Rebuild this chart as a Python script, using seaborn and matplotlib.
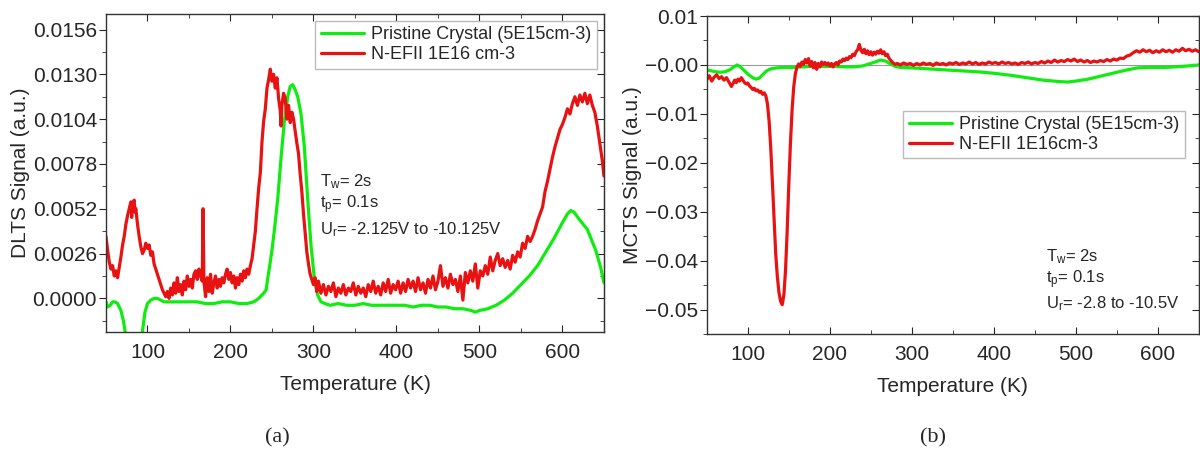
import numpy as np
import pandas as pd
import seaborn as sns
import matplotlib.pyplot as plt
from matplotlib.ticker import MultipleLocator

# ---- data ----
labels_a = ["Pristine Crystal (5E15cm-3)", "N-EFII 1E16 cm-3"]
labels_b = ["Pristine Crystal (5E15cm-3)", "N-EFII 1E16cm-3"]

# (a) DLTS, pristine crystal
dlts_pristine_T = [50, 52, 55, 58, 61, 64, 68, 71, 74, 77, 80, 84, 88, 91, 94, 97, 100, 104, 108, 112,
                   116, 120, 130, 140, 150, 160, 170, 180, 190, 200, 210, 220, 228, 234, 240, 243, 245,
                   247, 250, 253, 257, 261, 265, 269, 272, 275, 278, 281, 285, 289, 293, 297, 301, 305,
                   309, 314, 320, 330, 340, 350, 360, 370, 380, 390, 400, 410, 420, 430, 440, 450, 460,
                   470, 480, 490, 495, 500, 510, 520, 530, 540, 550, 560, 570, 580, 590, 600, 606, 610,
                   614, 620, 630, 640, 646, 650]
dlts_pristine = [-0.0002, -0.0005, -0.0004, -0.0002, -0.0002, -0.0003, -0.0007, -0.0013, -0.0022, -0.0032,
                 -0.0040, -0.0044, -0.0040, -0.0030, -0.0019, -0.0008, -0.0003, -0.0001, 0.0000, 0.0000,
                 -0.0001, -0.0002, -0.0002, -0.0002, -0.0002, -0.0002, -0.0003, -0.0003, -0.0002, -0.0002,
                 -0.0003, -0.0003, -0.0002, 0.0000, 0.0003, 0.0005, 0.0012, 0.0018, 0.0028, 0.0040,
                 0.0058, 0.0082, 0.0103, 0.0117, 0.0123, 0.0124, 0.0121, 0.0117, 0.0107, 0.0088,
                 0.0058, 0.0031, 0.0012, 0.0002, -0.0002, -0.0003, -0.0004, -0.0003, -0.0004, -0.0004,
                 -0.0003, -0.0004, -0.0004, -0.0004, -0.0004, -0.0004, -0.0005, -0.0004, -0.0004, -0.0005,
                 -0.0005, -0.0006, -0.0006, -0.0007, -0.0008, -0.0007, -0.0006, -0.0004, -0.0001, 0.0003,
                 0.0008, 0.0013, 0.0019, 0.0027, 0.0035, 0.0044, 0.0049, 0.0051, 0.0050, 0.0046,
                 0.0040, 0.0028, 0.0018, 0.0009]

# (a) DLTS, N-EFII
dlts_nefii_T = [50, 52, 54, 56, 58, 60, 62, 64, 66, 68, 70, 72, 74, 76, 78, 80, 81, 82, 84, 85, 86, 88,
                90, 92, 94, 96, 98, 100, 102, 104, 106, 108, 110, 112, 114, 116, 118, 120, 122, 124, 126,
                128, 130, 132, 134, 136, 138, 140, 142, 144, 146, 148, 150, 152, 154, 156, 158, 160, 162,
                164, 166, 167, 168, 170, 172, 174, 176, 178, 180, 182, 184, 186, 188, 190, 192, 194, 196,
                198, 200, 202, 204, 206, 208, 210, 212, 214, 216, 218, 220, 222, 224, 226, 228, 230, 232,
                234, 236, 238, 240, 242, 244, 246, 248, 250, 252, 254, 256, 258, 260, 261, 262, 264, 266,
                268, 270, 272, 274, 276, 278, 280, 282, 284, 286, 288, 290, 292, 294, 296, 298, 300, 302,
                304, 306, 309, 312, 315, 318, 321, 324, 327, 330, 333, 336, 339, 342, 345, 348, 351, 354,
                357, 360, 363, 366, 369, 372, 375, 378, 381, 384, 387, 390, 393, 396, 399, 402, 405, 408,
                411, 414, 417, 420, 423, 426, 429, 432, 435, 438, 441, 444, 447, 450, 453, 456, 459, 462,
                465, 468, 471, 474, 477, 480, 483, 486, 489, 492, 495, 498, 501, 504, 507, 510, 513, 516,
                519, 522, 525, 528, 531, 534, 537, 540, 543, 546, 549, 552, 555, 558, 561, 564, 567, 570,
                573, 576, 579, 582, 585, 588, 591, 594, 597, 600, 603, 606, 609, 612, 615, 618, 621, 624,
                627, 630, 633, 636, 639, 642, 645, 648, 650]
dlts_nefii = [0.0036, 0.0028, 0.0021, 0.0017, 0.0019, 0.0013, 0.0016, 0.0012, 0.0018, 0.0024, 0.0031,
              0.0036, 0.0043, 0.0048, 0.0052, 0.0056, 0.0047, 0.0055, 0.0057, 0.0050, 0.0052, 0.0043,
              0.0036, 0.0030, 0.0026, 0.0028, 0.0032, 0.0029, 0.0031, 0.0025, 0.0027, 0.0020, 0.0017,
              0.0014, 0.0011, 0.0008, 0.0005, 0.0003, 0.0001, 0.0004, 0.0000, 0.0006, 0.0002, 0.0009,
              0.0003, 0.0012, 0.0004, 0.0008, 0.0002, 0.0010, 0.0005, 0.0013, 0.0007, 0.0011, 0.0006,
              0.0014, 0.0016, 0.0011, 0.0017, 0.0013, 0.0010, 0.0052, 0.0010, 0.0001, 0.0012, 0.0004,
              0.0014, 0.0003, 0.0009, 0.0013, 0.0006, 0.0011, 0.0007, 0.0012, 0.0009, 0.0014, 0.0017,
              0.0011, 0.0015, 0.0009, 0.0013, 0.0006, 0.0012, 0.0008, 0.0014, 0.0010, 0.0016, 0.0012,
              0.0017, 0.0014, 0.0019, 0.0023, 0.0031, 0.0039, 0.0052, 0.0064, 0.0073, 0.0091, 0.0103,
              0.0110, 0.0122, 0.0127, 0.0133, 0.0126, 0.0130, 0.0122, 0.0128, 0.0116, 0.0109, 0.0100,
              0.0112, 0.0119, 0.0116, 0.0104, 0.0112, 0.0102, 0.0108, 0.0104, 0.0097, 0.0090, 0.0084,
              0.0072, 0.0062, 0.0049, 0.0038, 0.0027, 0.0020, 0.0014, 0.0011, 0.0008, 0.0012, 0.0004,
              0.0010, 0.0003, 0.0008, 0.0002, 0.0007, 0.0004, 0.0009, 0.0001, 0.0006, 0.0003, 0.0008,
              0.0002, 0.0006, 0.0004, 0.0009, 0.0002, 0.0007, 0.0003, 0.0006, 0.0001, 0.0008, 0.0004,
              0.0010, 0.0003, 0.0007, 0.0002, 0.0009, 0.0004, 0.0011, 0.0003, 0.0008, 0.0005, 0.0010,
              0.0003, 0.0009, 0.0004, 0.0011, 0.0006, 0.0010, 0.0004, 0.0012, 0.0005, 0.0009, 0.0003,
              0.0011, 0.0006, 0.0013, 0.0005, 0.0010, 0.0019, 0.0007, 0.0012, 0.0006, 0.0014, 0.0008,
              0.0011, 0.0004, 0.0013, -0.0001, 0.0015, 0.0009, 0.0016, 0.0010, 0.0020, 0.0006, 0.0016,
              0.0013, 0.0019, 0.0014, 0.0024, 0.0016, 0.0022, 0.0026, 0.0019, 0.0023, 0.0018, 0.0022,
              0.0017, 0.0025, 0.0021, 0.0027, 0.0024, 0.0032, 0.0029, 0.0036, 0.0033, 0.0036, 0.0040,
              0.0045, 0.0049, 0.0053, 0.0062, 0.0068, 0.0075, 0.0082, 0.0088, 0.0093, 0.0098, 0.0101,
              0.0105, 0.0110, 0.0107, 0.0113, 0.0117, 0.0112, 0.0118, 0.0114, 0.0119, 0.0113, 0.0118,
              0.0112, 0.0108, 0.0100, 0.0090, 0.0080, 0.0071]

# (b) MCTS, pristine crystal
mcts_pristine_T = [50, 58, 66, 72, 78, 83, 87, 91, 96, 101, 106, 110, 114, 118, 123, 128, 135, 145, 155,
                   165, 175, 190, 205, 220, 230, 240, 248, 255, 262, 268, 274, 280, 286, 300, 320, 340,
                   360, 380, 400, 420, 440, 460, 480, 490, 500, 515, 530, 545, 560, 575, 590, 610, 630, 650]
mcts_pristine = [-0.0010, -0.0013, -0.0015, -0.0014, -0.0010, -0.0004, 0.0000, -0.0004, -0.0012, -0.0020,
                 -0.0026, -0.0029, -0.0027, -0.0020, -0.0012, -0.0008, -0.0006, -0.0005, -0.0005, -0.0004,
                 -0.0003, -0.0003, -0.0003, -0.0004, -0.0004, -0.0002, 0.0002, 0.0006, 0.0010, 0.0008,
                 0.0002, -0.0003, -0.0005, -0.0006, -0.0008, -0.0010, -0.0012, -0.0014, -0.0017, -0.0021,
                 -0.0026, -0.0031, -0.0034, -0.0035, -0.0033, -0.0029, -0.0023, -0.0017, -0.0011, -0.0006,
                 -0.0005, -0.0005, -0.0003, 0.0000]

# (b) MCTS, N-EFII
mcts_nefii_T = [50, 53, 56, 59, 62, 65, 68, 71, 74, 77, 80, 82, 84, 86, 88, 90, 92, 94, 96, 98, 100, 102,
                104, 106, 108, 110, 112, 114, 116, 118, 120, 122, 124, 126, 128, 130, 132, 134, 136, 138,
                140, 142, 144, 146, 148, 150, 152, 154, 156, 158, 160, 162, 164, 166, 168, 170, 172, 174,
                176, 178, 180, 182, 184, 186, 188, 190, 192, 194, 196, 198, 200, 202, 204, 206, 208, 210,
                212, 214, 216, 218, 220, 222, 224, 226, 228, 230, 232, 234, 236, 238, 240, 242, 244, 246,
                248, 250, 252, 254, 256, 258, 260, 262, 264, 266, 268, 270, 272, 274, 276, 278, 280, 282,
                286, 290, 294, 298, 302, 306, 310, 314, 318, 322, 326, 330, 334, 338, 342, 346, 350, 354,
                358, 362, 366, 370, 374, 378, 382, 386, 390, 394, 398, 402, 406, 410, 414, 418, 422, 426,
                430, 434, 438, 442, 446, 450, 454, 458, 462, 466, 470, 474, 478, 482, 486, 490, 494, 498,
                502, 506, 510, 514, 518, 522, 526, 530, 534, 538, 542, 546, 550, 554, 558, 562, 566, 570,
                574, 578, 582, 586, 590, 594, 598, 602, 606, 610, 614, 618, 622, 626, 630, 634, 638, 642,
                646, 650]
mcts_nefii = [-0.0030, -0.0022, -0.0033, -0.0025, -0.0020, -0.0028, -0.0024, -0.0031, -0.0026, -0.0035,
              -0.0044, -0.0038, -0.0031, -0.0036, -0.0029, -0.0033, -0.0026, -0.0031, -0.0036, -0.0039,
              -0.0037, -0.0043, -0.0046, -0.0050, -0.0048, -0.0053, -0.0051, -0.0056, -0.0054, -0.0060,
              -0.0057, -0.0063, -0.0080, -0.0115, -0.0170, -0.0240, -0.0315, -0.0385, -0.0432, -0.0465,
              -0.0483, -0.0490, -0.0470, -0.0420, -0.0340, -0.0245, -0.0160, -0.0092, -0.0045, -0.0018,
              -0.0004, 0.0002, -0.0003, 0.0006, 0.0001, 0.0011, 0.0004, 0.0013, -0.0002, 0.0007,
              -0.0006, 0.0005, -0.0009, 0.0003, -0.0004, 0.0006, 0.0001, 0.0005, 0.0000, 0.0004,
              -0.0002, 0.0003, -0.0004, 0.0002, 0.0005, 0.0000, 0.0008, 0.0006, 0.0012, 0.0009,
              0.0014, 0.0011, 0.0017, 0.0015, 0.0022, 0.0019, 0.0027, 0.0031, 0.0042, 0.0030,
              0.0025, 0.0032, 0.0023, 0.0029, 0.0021, 0.0027, 0.0020, 0.0026, 0.0022, 0.0028,
              0.0024, 0.0031, 0.0023, 0.0027, 0.0019, 0.0022, 0.0014, 0.0010, 0.0006, 0.0003,
              0.0001, 0.0003, 0.0000, 0.0004, 0.0001, 0.0003, -0.0001, 0.0003, 0.0000, 0.0004,
              0.0001, 0.0003, -0.0001, 0.0004, 0.0001, 0.0003, 0.0000, 0.0004, 0.0002, 0.0005,
              0.0001, 0.0004, 0.0002, 0.0006, 0.0002, 0.0005, 0.0001, 0.0004, 0.0002, 0.0006,
              0.0003, 0.0005, 0.0002, 0.0006, 0.0003, 0.0005, 0.0002, 0.0004, 0.0001, 0.0005,
              0.0003, 0.0006, 0.0002, 0.0005, 0.0003, 0.0007, 0.0004, 0.0008, 0.0005, 0.0010,
              0.0006, 0.0009, 0.0007, 0.0011, 0.0008, 0.0012, 0.0007, 0.0010, 0.0006, 0.0009,
              0.0005, 0.0008, 0.0006, 0.0009, 0.0007, 0.0011, 0.0008, 0.0012, 0.0010, 0.0014,
              0.0013, 0.0018, 0.0020, 0.0025, 0.0029, 0.0026, 0.0031, 0.0027, 0.0030, 0.0025,
              0.0029, 0.0026, 0.0031, 0.0027, 0.0030, 0.0026, 0.0031, 0.0028, 0.0034, 0.0029,
              0.0032, 0.0028, 0.0031, 0.0027]

GREEN = "#0fec0f"
RED = "#e81212"

sns.set_style("ticks")
plt.rcParams["font.family"] = ["Liberation Sans", "DejaVu Sans"]
plt.rcParams["mathtext.default"] = "regular"


def make_frame(t1, y1, t2, y2, names):
    df1 = pd.DataFrame({"T": t1, "signal": y1, "sample": names[0]})
    df2 = pd.DataFrame({"T": t2, "signal": y2, "sample": names[1]})
    return pd.concat([df1, df2], ignore_index=True)


def style_axes(ax, ylabel, ymajor, yminor):
    ax.set_xlim(50, 650)
    ax.xaxis.set_major_locator(MultipleLocator(100))
    ax.xaxis.set_minor_locator(MultipleLocator(50))
    ax.yaxis.set_major_locator(MultipleLocator(ymajor))
    ax.yaxis.set_minor_locator(MultipleLocator(yminor))
    ax.tick_params(axis="x", which="both", direction="in", top=True, labelsize=15, pad=8)
    ax.tick_params(axis="x", which="major", length=5)
    ax.tick_params(axis="x", which="minor", length=3)
    ax.tick_params(axis="y", which="both", direction="out", labelsize=15, pad=1.5)
    ax.tick_params(axis="y", which="major", length=5)
    ax.tick_params(axis="y", which="minor", length=3)
    sec = ax.secondary_yaxis("right")
    sec.yaxis.set_major_locator(MultipleLocator(ymajor))
    sec.yaxis.set_minor_locator(MultipleLocator(yminor))
    sec.tick_params(which="both", direction="in", labelright=False)
    sec.tick_params(which="major", length=5)
    sec.tick_params(which="minor", length=3)
    sec.spines["right"].set_color("#333333")
    for s in ax.spines.values():
        s.set_color("#333333")
        s.set_linewidth(1.0)
        s.set_visible(True)
    ax.set_xlabel("Temperature (K)", fontsize=15, labelpad=9)
    ax.set_ylabel(ylabel, fontsize=15, labelpad=2)


fig = plt.figure(figsize=(12, 4.59), dpi=100)
ax1 = fig.add_axes([0.0883, 0.2767, 0.415, 0.6928])
ax2 = fig.add_axes([0.589, 0.2723, 0.41, 0.6928])

# panel (a)
df_a = make_frame(dlts_pristine_T, dlts_pristine, dlts_nefii_T, dlts_nefii, labels_a)
sns.lineplot(data=df_a, x="T", y="signal", hue="sample", hue_order=labels_a,
             palette=[GREEN, RED], estimator=None, linewidth=2.3, ax=ax1)
ax1.set_ylim(-0.00195, 0.0165)
ax1.yaxis.set_major_formatter(plt.FuncFormatter(lambda v, p: f"{v:.4f}"))
style_axes(ax1, "DLTS Signal (a.u.)", 0.0026, 0.0013)
ax1.legend(loc="upper right", bbox_to_anchor=(0.986, 0.978), borderaxespad=0, fontsize=13,
           frameon=True, fancybox=False, edgecolor="#aaaaaa", handlelength=2.4,
           labelspacing=0.15, borderpad=0.3, handletextpad=0.4)
ax1.text(0.43, 0.4726, "T$_w$= 2s", transform=ax1.transAxes, fontsize=12, va="center")
ax1.text(0.43, 0.399, "t$_p$= 0.1s", transform=ax1.transAxes, fontsize=12, va="center")
ax1.text(0.43, 0.321, "U$_r$= -2.125V to -10.125V", transform=ax1.transAxes, fontsize=12, va="center")

# panel (b)
df_b = make_frame(mcts_pristine_T, mcts_pristine, mcts_nefii_T, mcts_nefii, labels_b)
ax2.axhline(0, color="#999999", linewidth=0.8, zorder=1)
sns.lineplot(data=df_b, x="T", y="signal", hue="sample", hue_order=labels_b,
             palette=[GREEN, RED], estimator=None, linewidth=2.3, ax=ax2)
ax2.set_ylim(-0.055, 0.01)
ax2.yaxis.set_major_formatter(plt.FuncFormatter(lambda v, p: f"{v:.2f}".replace("-", "\u2212")))
style_axes(ax2, "MCTS Signal (a.u.)", 0.01, 0.005)
ax2.legend(loc="upper right", bbox_to_anchor=(0.9715, 0.702), borderaxespad=0, fontsize=13,
           frameon=True, fancybox=False, edgecolor="#aaaaaa", handlelength=2.4,
           labelspacing=0.15, borderpad=0.3, handletextpad=0.4)
ax2.text(0.689, 0.243, "T$_w$= 2s", transform=ax2.transAxes, fontsize=12, va="center")
ax2.text(0.689, 0.170, "t$_p$= 0.1s", transform=ax2.transAxes, fontsize=12, va="center")
ax2.text(0.689, 0.0965, "U$_r$= -2.8 to -10.5V", transform=ax2.transAxes, fontsize=12, va="center")

# panel captions
fig.text(277 / 1200, 1 - 438 / 459, "(a)", family="Liberation Serif", fontsize=16, ha="center", va="center")
fig.text(933 / 1200, 1 - 438 / 459, "(b)", family="Liberation Serif", fontsize=16, ha="center", va="center")

fig.savefig("out.png", dpi=100)
